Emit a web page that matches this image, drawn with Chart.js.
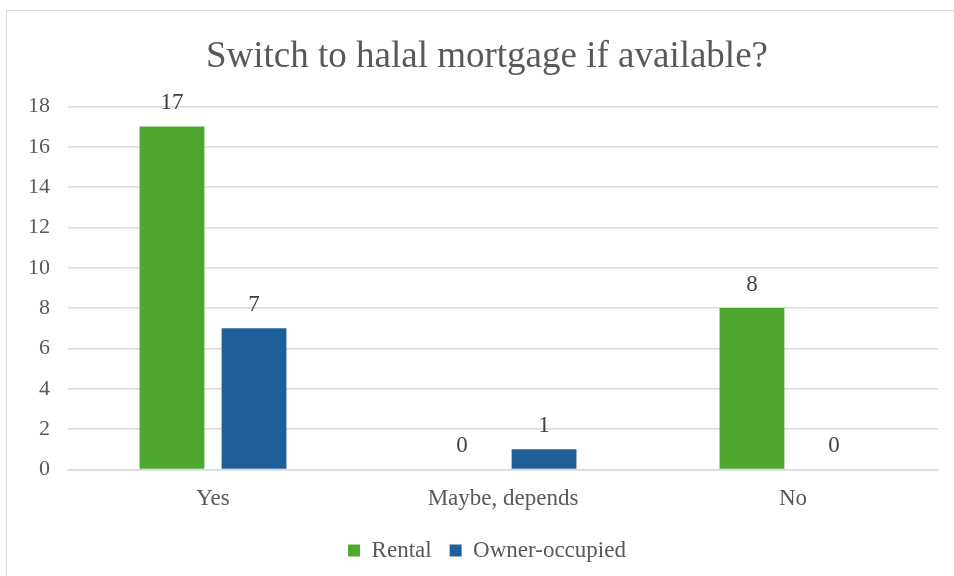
<!DOCTYPE html>
<html>
<head>
<meta charset="utf-8">
<style>
  body { margin: 0; background: #fff; overflow: hidden; }
  #frame { position: absolute; left: 6px; top: 10px; width: 980px; height: 580px; border: 1px solid #d9d9d9; }
  #switchChart { position: absolute; left: 0; top: 0; }
</style>
</head>
<body>
<div id="frame"><canvas id="switchChart" width="976" height="565"></canvas></div>
<script src="https://cdn.jsdelivr.net/npm/chart.js"></script>
<script>
const answers = ['Yes', 'Maybe, depends', 'No'];
const rental = [17, 0, 8];
const ownerOccupied = [7, 1, 0];
const yTicks = [0, 2, 4, 6, 8, 10, 12, 14, 16, 18];

const textColor = '#595959';
const fontFamily = '"Liberation Serif", "Times New Roman", serif';

// writes each bar's value just above its top
const valueLabels = {
  id: 'valueLabels',
  afterDatasetsDraw(chart) {
    const c = chart.ctx;
    c.save();
    c.font = '23px ' + fontFamily;
    c.fillStyle = '#404040';
    c.textAlign = 'center';
    c.textBaseline = 'bottom';
    chart.data.datasets.forEach((ds, i) => {
      chart.getDatasetMeta(i).data.forEach((bar, j) => {
        c.fillText(String(ds.data[j]), bar.x, bar.y - 12);
      });
    });
    c.restore();
  }
};

let ctx = document.getElementById('switchChart').getContext('2d');
let chart = new Chart(ctx, {
  type: 'bar',
  data: {
    labels: answers,
    datasets: [{
      label: 'Rental',
      data: rental,
      backgroundColor: '#4ea72e',
      categoryPercentage: 0.566,
      barPercentage: 0.79
    }, {
      label: 'Owner-occupied',
      data: ownerOccupied,
      backgroundColor: '#1f5f99',
      categoryPercentage: 0.566,
      barPercentage: 0.79
    }]
  },
  options: {
    responsive: false,
    animation: false,
    layout: { padding: { left: 0, right: 16, top: 0, bottom: 4 } },
    plugins: {
      title: {
        display: true,
        text: 'Switch to halal mortgage if available?',
        color: textColor,
        font: { family: fontFamily, size: 37, weight: 'normal' },
        padding: { top: 24, bottom: 27 }
      },
      legend: {
        position: 'bottom',
        labels: {
          color: textColor,
          font: { family: fontFamily, size: 23 },
          boxWidth: 12,
          boxHeight: 12,
          padding: 18
        }
      },
      tooltip: { enabled: false }
    },
    scales: {
      x: {
        grid: { display: false },
        border: { color: '#d9d9d9', width: 1.5 },
        ticks: { color: textColor, font: { family: fontFamily, size: 23 }, padding: 8 }
      },
      y: {
        min: 0,
        max: 18,
        afterFit(scale) { scale.width = 61; },
        afterBuildTicks(scale) { scale.ticks = yTicks.map(v => ({ value: v })); },
        grid: { color: '#d9d9d9', lineWidth: 1.5, drawTicks: false },
        border: { display: false },
        ticks: { color: textColor, font: { family: fontFamily, size: 22 }, padding: 18 }
      },
      // empty right-hand spacer so the title and legend sit where the frame's centre is
      spacer: {
        position: 'right',
        afterFit(scale) { scale.width = 29; },
        grid: { display: false },
        border: { display: false },
        ticks: { display: false }
      }
    }
  },
  plugins: [valueLabels]
});
</script>
</body>
</html>
